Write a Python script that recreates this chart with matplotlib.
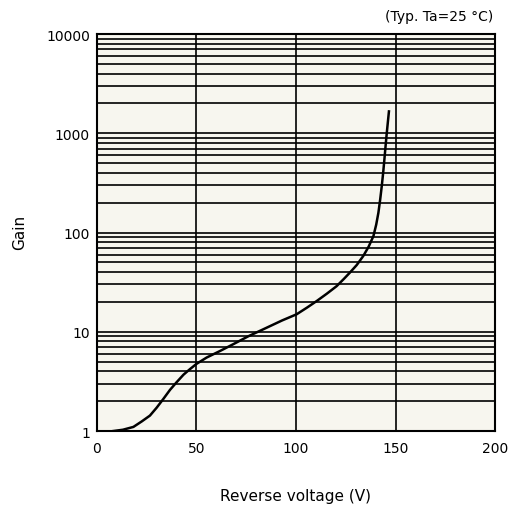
import numpy as np
import matplotlib.pyplot as plt
from matplotlib.ticker import LogLocator, FixedLocator, NullFormatter

# Gain vs reverse voltage
volt = [8.2, 13, 18.3, 22.5, 26.6, 30, 33.3, 36.7, 40, 43.5, 46.7, 50, 55.1, 61.8,
        68.5, 76, 85.3, 93, 100.3, 105.5, 110.4, 115.5, 120.4, 124, 127.1, 130.5,
        133.8, 136.5, 138.9, 140.3, 141.4, 142.3, 143.1, 143.8, 144.4, 145.0,
        145.6, 146.2, 146.7]
gain = [1.0, 1.03, 1.1, 1.25, 1.43, 1.72, 2.1, 2.6, 3.1, 3.7, 4.2, 4.75, 5.5, 6.4,
        7.5, 9.0, 11.0, 13.0, 15.0, 17.5, 20.4, 24.2, 28.8, 34, 39.5, 47,
        58, 72, 92, 120, 158, 215, 294, 400, 540, 740,
        1000, 1320, 1660]

xticks = [0, 50, 100, 150, 200]
yticks = [1, 10, 100, 1000, 10000]

W, H = 511, 506
fig = plt.figure(figsize=(W / 100, H / 100), dpi=100)
ax = fig.add_axes([0.1898, 0.1462, 0.7789, 0.7846])
ax.set_facecolor('#f7f6ef')

ax.plot(volt, gain, color='black', lw=1.8, zorder=3)

ax.set_yscale('log')
ax.set_xlim(0, 200)
ax.set_ylim(1, 10000)
ax.xaxis.set_major_locator(FixedLocator(xticks))
ax.yaxis.set_major_locator(FixedLocator(yticks))
ax.yaxis.set_minor_locator(LogLocator(base=10, subs=np.arange(2, 10)))
ax.yaxis.set_minor_formatter(NullFormatter())
ax.set_yticklabels([str(t) for t in yticks])
ax.set_xticklabels([str(t) for t in xticks])

ax.grid(True, which='major', axis='x', color='black', lw=1.2)
ax.grid(True, which='both', axis='y', color='black', lw=1.2)
ax.tick_params(which='both', length=0, labelsize=10)
ax.tick_params(axis='x', pad=7)
ax.tick_params(axis='y', pad=5)
for s in ax.spines.values():
    s.set_linewidth(1.5)

# axis titles placed where the reference has them
fig.text(296 / W, 1 - 497 / H, 'Reverse voltage (V)', ha='center', va='center', fontsize=11)
fig.text(20 / W, 1 - 232 / H, 'Gain', ha='center', va='center', rotation=90, fontsize=11)
fig.text(0.965, 0.952, '(Typ. Ta=25 \u00b0C)', ha='right', va='bottom', fontsize=10)

fig.savefig('out.png', dpi=100)
